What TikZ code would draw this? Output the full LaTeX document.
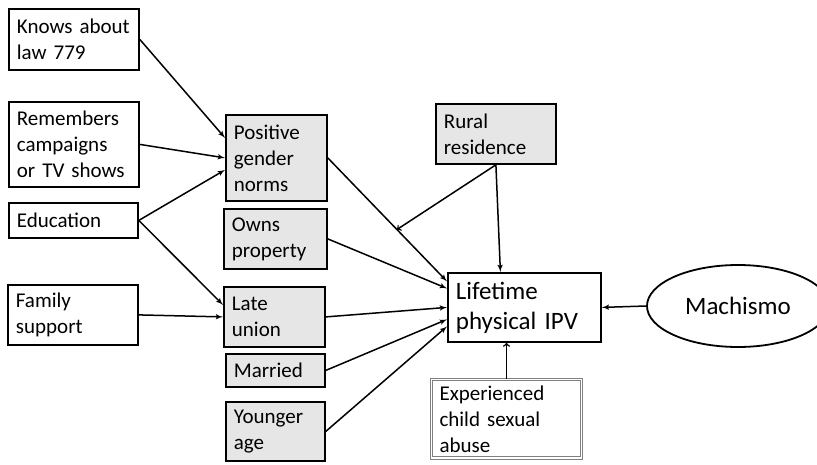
\documentclass[tikz,border=0pt]{standalone}
\usepackage{fontspec}
\setmainfont{Carlito}
\usepackage{tikz}
\usetikzlibrary{shapes,arrows}
\definecolor{boxgray}{RGB}{230,230,230}
\tikzstyle{block} = [rectangle, draw, line width=1.8pt, anchor=north west,
inner xsep=8pt, inner ysep=2pt, align=left, font=\fontsize{21}{26}\selectfont]
\tikzstyle{shaded} = [block, fill=boxgray]
\tikzstyle{line} = [draw, line width=1.5pt, -latex']
\tikzstyle{open} = [draw, line width=1.5pt, ->]

\begin{document}
\begin{tikzpicture}[x=1pt, y=-1pt]
\clip (0,0) rectangle (817,464);
% Place nodes
\node [block, text width=114pt, minimum height=61pt] (law) at (8,8) {Knows about\\law 779};
\node [block, text width=114pt, minimum height=85pt] (tv) at (8,101) {Remembers\\campaigns\\or TV shows};
\node [block, text width=113pt, minimum height=35pt] (edu) at (8,202) {Education};
\node [block, text width=114pt, minimum height=60pt] (family) at (7,284) {Family\\support};
\node [shaded, text width=85pt, minimum height=86pt] (norms) at (225,114) {Positive\\gender\\norms};
\node [shaded, text width=87pt, minimum height=60pt] (property) at (223,208) {Owns\\property};
\node [shaded, text width=85pt, minimum height=60pt] (union) at (223,286) {Late\\union};
\node [shaded, text width=83pt, minimum height=33pt] (married) at (225,353) {Married};
\node [shaded, text width=83pt, minimum height=59pt] (younger) at (225,401) {Younger\\age};
\node [shaded, text width=104pt, minimum height=60pt] (rural) at (435,103) {Rural\\residence};
\node [block, text width=137pt, minimum height=69pt, font=\fontsize{25}{30}\selectfont] (ipv) at (447,272) {Lifetime\\physical IPV};
\node [ellipse, draw, line width=1.8pt, minimum width=182pt, minimum height=82pt,
font=\fontsize{25}{30}\selectfont] (machismo) at (738,306) {Machismo};
\node [block, draw=gray, line width=1pt, double, double distance=1.6pt, inner ysep=6pt,
text width=134pt] (abuse) at (431,379) {Experienced\\child sexual\\abuse\\[6pt]};
% Draw edges
\path [line] (law.east) -- ([yshift=20pt]norms.west);
\path [line] (tv.east) -- (norms.west);
\path [line] (edu.east) -- ([yshift=-12pt]norms.west);
\path [line] (edu.east) -- ([yshift=12pt]union.west);
\path [line] (family.east) -- (union.west);
\path [line] (norms.east) -- coordinate[pos=0.58] (mod) ([yshift=26pt]ipv.west);
\path [line] (property.east) -- ([yshift=19pt]ipv.west);
\path [line] (union.east) -- (ipv.west);
\path [line] (married.east) -- ([yshift=-12pt]ipv.west);
\path [line] (younger.east) -- ([yshift=-19pt]ipv.west);
\path [open] (rural.south) -- (mod);
\path [line] (rural.south) -- ([xshift=-24pt]ipv.north);
\path [line] (machismo.west) -- (ipv.east);
\path [open] (abuse.north) -- (abuse.north |- ipv.south);
\end{tikzpicture}
\end{document}
